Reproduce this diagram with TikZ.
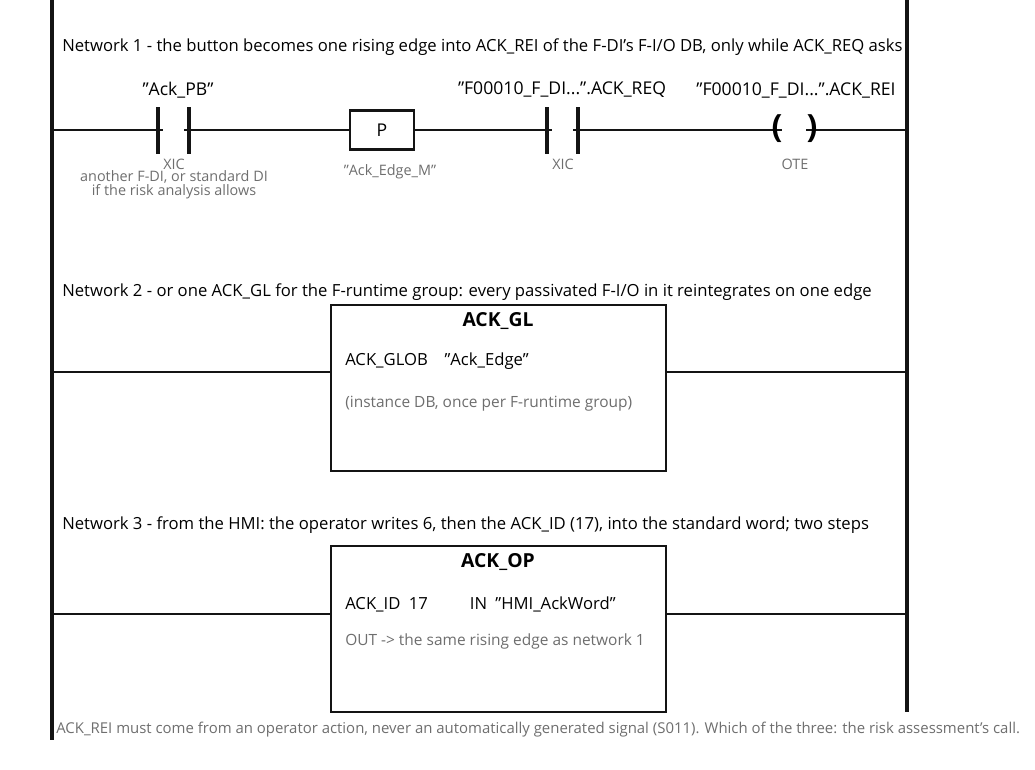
\documentclass[tikz,border=0pt]{standalone}
\usepackage{fontspec}
\setmainfont{Open Sans}[Ligatures=ResetAll]
\definecolor{wire}{RGB}{20,20,20}
\definecolor{note}{RGB}{110,110,110}
\newcommand{\qq}{\symbol{34}}
\begin{document}
\begin{tikzpicture}[
        x=0.75pt, y=-0.75pt,
        rail/.style={draw=wire, line width=3.4pt},
        rung/.style={draw=wire, line width=1.9pt},
        bar/.style={draw=wire, line width=2.6pt},
        blk/.style={draw=wire, line width=1.9pt, fill=white},
        title/.style={anchor=west, font=\fontsize{12.5}{14}\selectfont, inner sep=0},
        tag/.style={font=\fontsize{13.2}{15}\selectfont, inner sep=0},
        hint/.style={font=\fontsize{10.8}{11.5}\selectfont, text=note, inner sep=0, align=center},
        pin/.style={anchor=west, font=\fontsize{12.5}{14}\selectfont, inner sep=0},
        info/.style={anchor=west, font=\fontsize{11.6}{13}\selectfont, text=note, inner sep=0},
        head/.style={font=\fontsize{14.5}{16}\selectfont\bfseries, inner sep=0},
    ]
    \useasboundingbox (0,0) rectangle (1035,769);
    % rails
    \coordinate (lt) at (52,0);
    \coordinate (lb) at (52,740);
    \coordinate (rt) at (907,0);
    \coordinate (rb) at (907,712);
    \draw[rail] (lt) -- (lb);
    \draw[rail] (rt) -- (rb);
    % network 1
    \node[title] (n1) at (62,47) {Network 1 - the button becomes one rising edge into ACK\_REI of the F-DI's F-I/O DB, only while ACK\_REQ asks};
    \coordinate (r1l) at (52,130);
    \coordinate (r1r) at (907,130);
    \node[draw=wire, line width=1.9pt, fill=white, minimum width=48pt, minimum height=29pt, inner sep=0,
          font=\fontsize{13.2}{15}\selectfont] (pbox) at (382,130) {P};
    \draw[rung] (r1l) -- (pbox.west);
    \draw[rung] (pbox.east) -- (r1r);
    \foreach \x in {158,189,547,578}
        \draw[bar] (\x,107) -- (\x,154);
    \fill[white] (163,126) rectangle (184,134);
    \fill[white] (552,126) rectangle (573,134);
    \fill[white] (782,120) rectangle (806,140);
    \node[font=\fontsize{24}{24}\selectfont\bfseries, inner sep=0] (cl) at (777,129) {(};
    \node[font=\fontsize{24}{24}\selectfont\bfseries, inner sep=0] (cr) at (812,129) {)};
    \node[tag] (pb) at (178,90) {\qq Ack\_PB\qq};
    \node[tag] (req) at (562,90) {\qq F00010\_F\_DI...\qq.ACK\_REQ};
    \node[tag] (rei) at (796,90) {\qq F00010\_F\_DI...\qq.ACK\_REI};
    \node[hint] (x1) at (174,164) {XIC};
    \node[hint] (x1n) at (174,185) {another F-DI, or standard DI\\[-1pt]if the risk analysis allows};
    \node[hint] (edm) at (390,172) {\qq Ack\_Edge\_M\qq};
    \node[hint] (x2) at (563,164) {XIC};
    \node[hint] (ote) at (795,164) {OTE};
    % network 2
    \node[title] (n2) at (62,292) {Network 2 - or one ACK\_GL for the F-runtime group: every passivated F-I/O in it reintegrates on one edge};
    \coordinate (r2l) at (52,372);
    \coordinate (r2r) at (907,372);
    \draw[blk] (331,305) rectangle (666,471);
    \coordinate (b2l) at (331,372);
    \coordinate (b2r) at (666,372);
    \draw[rung] (r2l) -- (b2l);
    \draw[rung] (b2r) -- (r2r);
    \node[head] (gl) at (498,321) {ACK\_GL};
    \node[pin] (glob) at (345,361) {ACK\_GLOB\quad\qq Ack\_Edge\qq};
    \node[info] (inst) at (345,404) {(instance DB, once per F-runtime group)};
    % network 3
    \node[title] (n3) at (62,525) {Network 3 - from the HMI: the operator writes 6, then the ACK\_ID (17), into the standard word; two steps};
    \coordinate (r3l) at (52,614);
    \coordinate (r3r) at (907,614);
    \draw[blk] (331,546) rectangle (666,712);
    \coordinate (b3l) at (331,614);
    \coordinate (b3r) at (666,614);
    \draw[rung] (r3l) -- (b3l);
    \draw[rung] (b3r) -- (r3r);
    \node[head] (op) at (498,562) {ACK\_OP};
    \node[pin] (id) at (345,604) {ACK\_ID\enspace 17\qquad\ \ IN\enspace\qq HMI\_AckWord\qq};
    \node[info] (out) at (345,641) {OUT -> the same rising edge as network 1};
    % footer
    \node[anchor=west, inner sep=0, font=\fontsize{11.2}{13}\selectfont, text=note] (foot) at (56,730)
        {ACK\_REI must come from an operator action, never an automatically generated signal (S011). Which of the three: the risk assessment's call.};
\end{tikzpicture}
\end{document}
